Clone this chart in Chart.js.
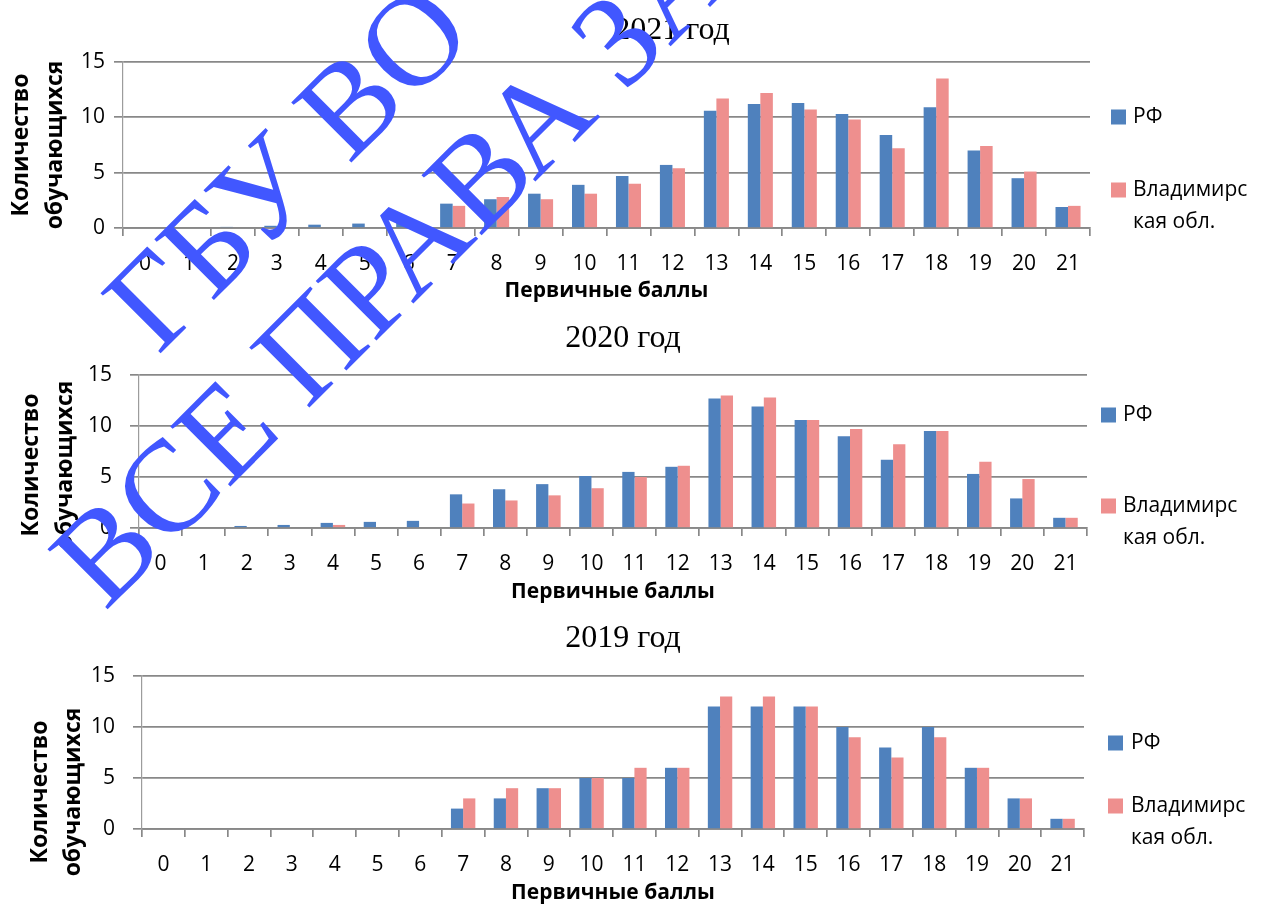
<!DOCTYPE html>
<html>
<head>
<meta charset="utf-8">
<script src="https://cdn.jsdelivr.net/npm/chart.js@4"></script>
<style>
  body { margin: 0; background: #fff; width: 1263px; height: 904px; overflow: hidden; position: relative; }
  canvas { position: absolute; left: 0; }
  #mark { position: absolute; left: 0; top: 0; pointer-events: none; }
</style>
</head>
<body>
<canvas id="c2021" width="1263" height="305" style="top:0px"></canvas>
<canvas id="c2020" width="1263" height="300" style="top:305px"></canvas>
<canvas id="c2019" width="1263" height="299" style="top:605px"></canvas>
<svg id="mark" width="1263" height="904">
  <text x="158" y="356" transform="rotate(-45 158 356)" font-family="Liberation Serif" font-size="130" fill="#4157FF">ГБУ ВО «ВИРО»</text>
  <text x="105" y="612" transform="rotate(-45 105 612)" font-family="Liberation Serif" font-size="130" fill="#4157FF">ВСЕ ПРАВА ЗАЩИЩЕНЫ</text>
</svg>
<script>
// data
const scores = ['0','1','2','3','4','5','6','7','8','9','10','11','12','13','14','15','16','17','18','19','20','21'];
const rf2021 = [0,0,0.1,0.2,0.3,0.4,0.5,2.2,2.6,3.1,3.9,4.7,5.7,10.6,11.2,11.3,10.3,8.4,10.9,7.0,4.5,1.9];
const vlad2021 = [0,0,0,0,0,0,0,2.0,2.8,2.6,3.1,4.0,5.4,11.7,12.2,10.7,9.8,7.2,13.5,7.4,5.1,2.0];
const rf2020 = [0,0,0.2,0.3,0.5,0.6,0.7,3.3,3.8,4.3,5.1,5.5,6.0,12.7,11.9,10.6,9.0,6.7,9.5,5.3,2.9,1.0];
const vlad2020 = [0,0,0,0,0.3,0,0,2.4,2.7,3.2,3.9,5.0,6.1,13.0,12.8,10.6,9.7,8.2,9.5,6.5,4.8,1.0];
const rf2019 = [0,0,0,0,0,0,0,2,3,4,5,5,6,12,12,12,10,8,10,6,3,1];
const vlad2019 = [0,0,0,0,0,0,0,3,4,4,5,6,6,13,13,12,9,7,9,6,3,1];
const seriesNames = ['РФ', 'Владимирская обл.'];
const legendLines = [['РФ'], ['Владимирс', 'кая обл.']];
const yTitleLines = ['Количество', 'обучающихся'];
const xTitle = 'Первичные баллы';
const yTicks = [0, 5, 10, 15];

const blue = '#4F81BD';
const pink = '#EE8F8E';
const gridGrey = '#888888';

// draws year title, y title and legend at the spots they sit in the original sheet
const sheetDecor = {
  id: 'sheetDecor',
  afterDraw(chart, args, o) {
    const ctx = chart.ctx;
    ctx.save();
    ctx.fillStyle = '#000';
    ctx.font = '32px "Liberation Serif", "Times New Roman", serif';
    ctx.textAlign = 'center';
    ctx.textBaseline = 'alphabetic';
    ctx.fillText(o.title, o.titleX, o.titleY);

    ctx.font = 'bold 23px "Open Sans"';
    ctx.textBaseline = 'middle';
    yTitleLines.forEach((line, i) => {
      ctx.save();
      ctx.translate(o.yTitleX[i], o.yTitleY);
      ctx.rotate(-Math.PI / 2);
      ctx.fillText(line, 0, 0);
      ctx.restore();
    });

    ctx.font = '21px "Open Sans"';
    ctx.textAlign = 'left';
    chart.data.datasets.forEach((ds, i) => {
      const ys = o.legendY[i];
      ctx.fillStyle = ds.backgroundColor;
      ctx.fillRect(o.boxX, ys[0] - 7.5, 15, 15);
      ctx.fillStyle = '#000';
      legendLines[i].forEach((t, j) => ctx.fillText(t, o.textX, ys[j]));
    });
    ctx.restore();
  }
};

function makeChart(id, rf, vlad, lay) {
  return new Chart(document.getElementById(id), {
    type: 'bar',
    data: {
      labels: scores,
      datasets: [
        { label: seriesNames[0], data: rf, backgroundColor: blue },
        { label: seriesNames[1], data: vlad, backgroundColor: pink }
      ]
    },
    options: {
      responsive: false,
      animation: false,
      layout: { padding: { top: lay.top, right: lay.right, left: 0, bottom: 0 } },
      datasets: { bar: { categoryPercentage: 0.57, barPercentage: 1.0 } },
      plugins: {
        legend: { display: false },
        tooltip: { enabled: false },
        sheetDecor: lay.decor
      },
      scales: {
        x: {
          grid: { drawOnChartArea: false, drawTicks: true, tickLength: 8, color: gridGrey, lineWidth: 1.7 },
          border: { display: true, color: gridGrey, width: 1.7 },
          ticks: { color: '#000', font: { family: 'Open Sans', size: 21 }, padding: 15, maxRotation: 0, autoSkip: false },
          title: { display: true, text: xTitle, color: '#000', font: { family: 'Open Sans', size: 21, weight: 'bold' }, padding: { top: 0, bottom: lay.xTitlePad } },
          afterFit(s) { s.height = lay.xHeight; }
        },
        y: {
          min: 0, max: 15,
          afterBuildTicks(s) { s.ticks = yTicks.map(v => ({ value: v })); },
          grid: { color: gridGrey, lineWidth: 1.7, tickLength: 9 },
          border: { display: true, color: '#9C9C9C', width: 1.2 },
          ticks: { color: '#000', font: { family: 'Open Sans', size: 21 }, padding: lay.yPad },
          afterFit(s) { s.width = lay.left; }
        }
      }
    },
    plugins: [sheetDecor]
  });
}

makeChart('c2021', rf2021, vlad2021, {
  top: 62, right: 173, left: 123, xHeight: 77, xTitlePad: 1, yPad: 9,
  decor: { title: '2021 год', titleX: 672, titleY: 39, yTitleX: [21.5, 55.5], yTitleY: 145,
           boxX: 1111, textX: 1133, legendY: [[117], [190, 222]] }
});
makeChart('c2020', rf2020, vlad2020, {
  top: 70, right: 176, left: 139, xHeight: 77, xTitlePad: 0, yPad: 18,
  decor: { title: '2020 год', titleX: 623, titleY: 42, yTitleX: [31, 65], yTitleY: 160,
           boxX: 1101, textX: 1123, legendY: [[110], [201, 233]] }
});
makeChart('c2019', rf2019, vlad2019, {
  top: 71, right: 179, left: 142, xHeight: 75, xTitlePad: -2, yPad: 18,
  decor: { title: '2019 год', titleX: 623, titleY: 42, yTitleX: [40, 73], yTitleY: 187,
           boxX: 1108, textX: 1131, legendY: [[138], [201, 233]] }
});
</script>
</body>
</html>
